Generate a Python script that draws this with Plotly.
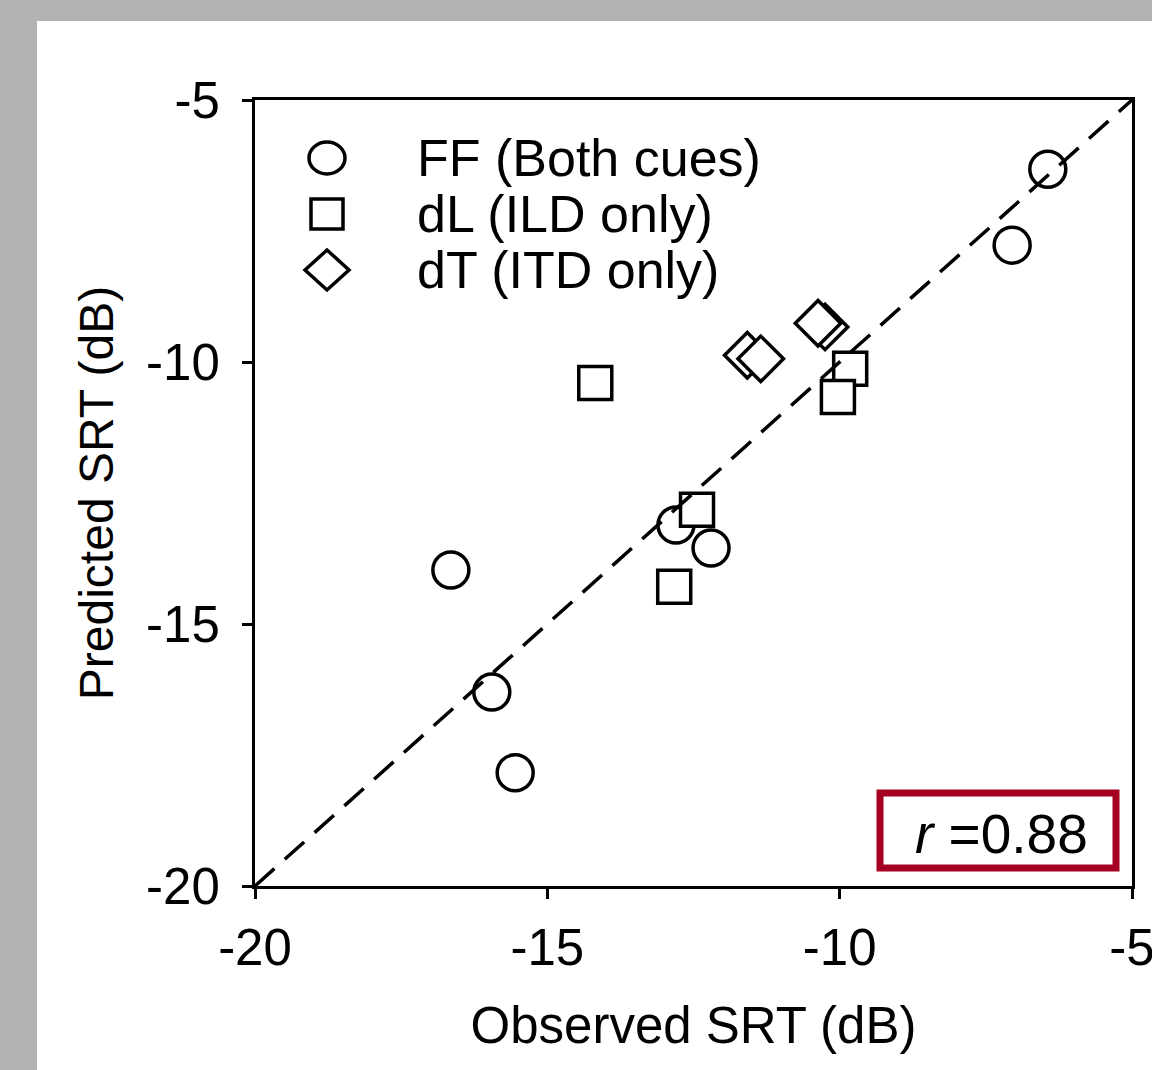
import plotly.graph_objects as go

# ---- data ----
ff_obs = [-6.44, -7.05, -12.80, -12.20, -16.65, -15.95, -15.55]
ff_pred = [-6.32, -7.77, -13.11, -13.55, -13.97, -16.30, -17.84]
dl_obs = [-14.18, -9.82, -10.03, -12.44, -12.83]
dl_pred = [-10.40, -10.13, -10.67, -12.82, -14.29]
dt_obs = [-11.58, -11.35, -10.25, -10.37]
dt_pred = [-9.87, -9.94, -9.33, -9.26]
axis_range = [-20, -5]
tick_vals = [-20, -15, -10, -5]
tick_text = ["-20", "-15", "-10", "-5"]
series_names = ["FF (Both cues)", "dL (ILD only)", "dT (ITD only)"]
r_text = "<i>r</i> =0.88"

FONT = "Arial, Liberation Sans, sans-serif"
W, H = 1152, 1070
L, R, T, B = 255, 20, 100, 184
pw, ph = W - L - R, H - T - B

def px_x(p):
    return (p - L) / pw

def px_y(p):
    return (H - B - p) / ph

fig = go.Figure()

mk = dict(color="white", line=dict(color="black", width=3.5))
fig.add_trace(go.Scatter(x=ff_obs, y=ff_pred, mode="markers", name=series_names[0],
                         marker=dict(symbol="circle", size=36, **mk)))
fig.add_trace(go.Scatter(x=dl_obs, y=dl_pred, mode="markers", name=series_names[1],
                         marker=dict(symbol="square", size=33, **mk)))
fig.add_trace(go.Scatter(x=dt_obs, y=dt_pred, mode="markers", name=series_names[2],
                         marker=dict(symbol="diamond", size=35, **mk)))
# identity line
fig.add_trace(go.Scatter(x=axis_range, y=axis_range, mode="lines", showlegend=False,
                         line=dict(color="black", width=3.5, dash="26px,14px")))

shapes = []
# white panel over grey page
shapes.append(dict(type="rect", xref="paper", yref="paper",
                   x0=px_x(37), x1=px_x(1200), y0=px_y(1120), y1=px_y(21),
                   fillcolor="white", line=dict(width=0), layer="below"))
# manual legend symbols
lx = px_x(327)
rows = [158, 214, 270]
shapes.append(dict(type="circle", xref="paper", yref="paper", xsizemode="pixel", ysizemode="pixel",
                   xanchor=lx, yanchor=px_y(rows[0]), x0=-18, x1=18, y0=-16, y1=16,
                   line=dict(color="black", width=3.5), fillcolor="white"))
shapes.append(dict(type="rect", xref="paper", yref="paper", xsizemode="pixel", ysizemode="pixel",
                   xanchor=lx, yanchor=px_y(rows[1]), x0=-16, x1=16, y0=-15, y1=15,
                   line=dict(color="black", width=3.5), fillcolor="white"))
shapes.append(dict(type="path", xref="paper", yref="paper", xsizemode="pixel", ysizemode="pixel",
                   xanchor=lx, yanchor=px_y(rows[2]),
                   path="M -22 0 L 0 20 L 22 0 L 0 -20 Z",
                   line=dict(color="black", width=3.5), fillcolor="white"))
# r box
shapes.append(dict(type="rect", xref="paper", yref="paper",
                   x0=px_x(880), x1=px_x(1116), y0=px_y(868), y1=px_y(793),
                   line=dict(color="#A50021", width=7), fillcolor="white"))

annotations = []
for name, ry in zip(series_names, rows):
    annotations.append(dict(text=name, xref="paper", yref="paper", x=px_x(415), y=px_y(ry),
                            xanchor="left", yanchor="middle", showarrow=False,
                            font=dict(family=FONT, size=52, color="black")))
annotations.append(dict(text=r_text, xref="paper", yref="paper", x=px_x(1001), y=px_y(834),
                        xanchor="center", yanchor="middle", showarrow=False,
                        font=dict(family=FONT, size=55, color="black")))

axis_common = dict(range=axis_range, tickvals=tick_vals, ticktext=tick_text,
                   ticks="outside", ticklen=10, ticklabeloverflow="allow",
                   tickwidth=2.5, tickcolor="black", showline=True, linecolor="black",
                   linewidth=3, mirror=True, showgrid=False, zeroline=False,
                   tickfont=dict(family=FONT, size=51, color="black"))

fig.update_layout(
    width=W, height=H,
    margin=dict(l=L, r=R, t=T, b=B, autoexpand=False),
    paper_bgcolor="#b3b3b3", plot_bgcolor="white",
    showlegend=False,
    shapes=shapes, annotations=annotations,
    xaxis=dict(**axis_common, ticklabelstandoff=5,
               title=dict(text="Observed SRT (dB)", standoff=33,
                          font=dict(family=FONT, size=51, color="black"))),
    yaxis=dict(**axis_common, ticklabelstandoff=12,
               title=dict(text="Predicted SRT (dB)", standoff=18,
                          font=dict(family=FONT, size=48, color="black"))),
)

fig.write_html("out.html")
